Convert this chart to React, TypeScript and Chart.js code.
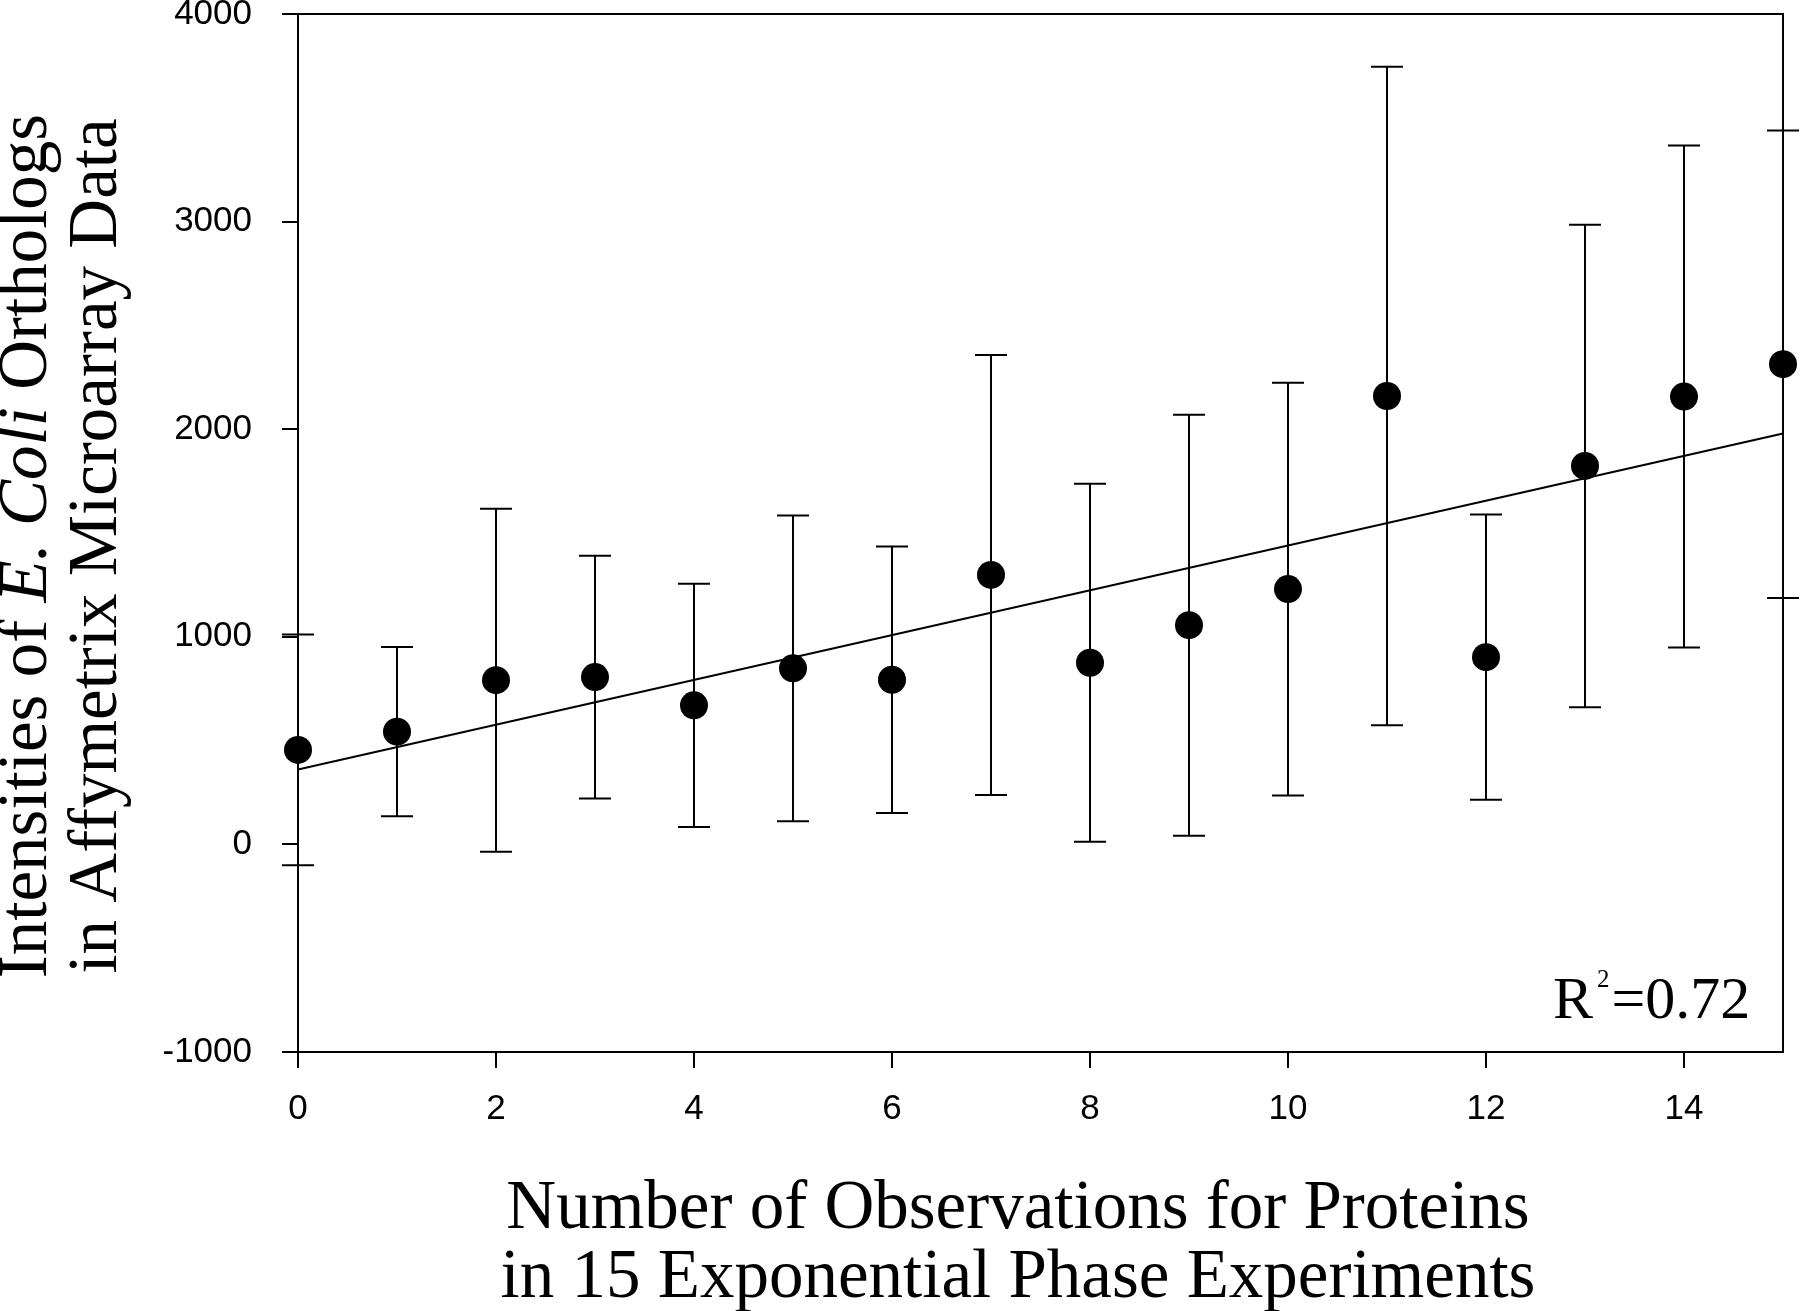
import React, { useEffect, useRef } from "react";
import { Chart, registerables } from "chart.js";

Chart.register(...registerables);

// ---- data ----
const observations = [0, 1, 2, 3, 4, 5, 6, 7, 8, 9, 10, 11, 12, 13, 14, 15];
const meanIntensity = [455, 543, 791, 806, 670, 848, 793, 1298, 875, 1056, 1230, 2160, 902, 1823, 2157, 2313];
const errorIntensity = [556, 408, 826, 585, 586, 736, 642, 1060, 862, 1014, 994, 1586, 687, 1162, 1209, 1126];
const fitX = [0, 15];
const fitY = [361, 1979];
const xRange = [0, 15];
const xStep = 2;
const yRange = [-1000, 4000];
const yStep = 1000;
const rSquaredLabel = "0.72";
const xTitleLines = ["Number of Observations for Proteins", "in 15 Exponential Phase Experiments"];
const yTitleLine1 = [
  { text: "Intensities of ", italic: false },
  { text: "E. Coli", italic: true },
  { text: " Orthologs", italic: false },
];
const yTitleLine2 = "in Affymetrix Microarray Data";

const SERIF = "'Liberation Serif', 'Times New Roman', serif";
const SANS = "'Liberation Sans', Arial, sans-serif";
const X_TITLE_SIZE = 69;
const Y_TITLE_SIZE = 69;
const TICK_SIZE = 35;

const errorBarPlugin = {
  id: "errorBarsAndFrame",
  beforeDatasetsDraw(chart: any) {
    const { ctx, scales, chartArea } = chart;
    const x = scales.x;
    const y = scales.y;
    ctx.save();
    ctx.strokeStyle = "#000";
    ctx.lineWidth = 2;
    ctx.beginPath();
    ctx.moveTo(chartArea.left, chartArea.top);
    ctx.lineTo(chartArea.right, chartArea.top);
    ctx.lineTo(chartArea.right, chartArea.bottom);
    ctx.stroke();
    ctx.beginPath();
    observations.forEach((o, i) => {
      const px = x.getPixelForValue(o);
      const top = y.getPixelForValue(meanIntensity[i] + errorIntensity[i]);
      const bot = y.getPixelForValue(meanIntensity[i] - errorIntensity[i]);
      ctx.moveTo(px, top);
      ctx.lineTo(px, bot);
      ctx.moveTo(px - 16, top);
      ctx.lineTo(px + 16, top);
      ctx.moveTo(px - 16, bot);
      ctx.lineTo(px + 16, bot);
    });
    ctx.stroke();
    ctx.restore();
  },
};

const titlesPlugin = {
  id: "titles",
  afterDraw(chart: any) {
    const { ctx } = chart;
    ctx.save();
    ctx.fillStyle = "#000";
    ctx.textBaseline = "alphabetic";

    // X title
    ctx.textAlign = "center";
    ctx.font = `${X_TITLE_SIZE}px ${SERIF}`;
    ctx.fillText(xTitleLines[0], 1018, 1228);
    ctx.fillText(xTitleLines[1], 1018, 1297);

    // Y title (rotated)
    ctx.save();
    ctx.translate(46, 546);
    ctx.rotate(-Math.PI / 2);
    ctx.textAlign = "left";
    const widths = yTitleLine1.map((s) => {
      ctx.font = `${s.italic ? "italic " : ""}${Y_TITLE_SIZE}px ${SERIF}`;
      return ctx.measureText(s.text).width;
    });
    const total = widths.reduce((a, b) => a + b, 0);
    let cx = -total / 2;
    yTitleLine1.forEach((s, i) => {
      ctx.font = `${s.italic ? "italic " : ""}${Y_TITLE_SIZE}px ${SERIF}`;
      ctx.fillText(s.text, cx, 0);
      cx += widths[i];
    });
    ctx.restore();

    ctx.save();
    ctx.translate(116, 546);
    ctx.rotate(-Math.PI / 2);
    ctx.textAlign = "center";
    ctx.font = `${Y_TITLE_SIZE}px ${SERIF}`;
    ctx.fillText(yTitleLine2, 0, 0);
    ctx.restore();

    // R^2 annotation
    ctx.textAlign = "left";
    let rx = 1553;
    const ry = 1018;
    ctx.font = `60px ${SERIF}`;
    ctx.fillText("R", rx, ry);
    rx += ctx.measureText("R").width + 4;
    ctx.font = `25px ${SERIF}`;
    ctx.fillText("2", rx, ry - 31);
    rx += ctx.measureText("2").width + 2;
    ctx.font = `60px ${SERIF}`;
    ctx.fillText("=" + rSquaredLabel, rx, ry);

    ctx.restore();
  },
};

export default function App() {
  const canvasRef = useRef<HTMLCanvasElement | null>(null);

  useEffect(() => {
    if (!canvasRef.current) return;
    const chart = new Chart(canvasRef.current, {
      type: "scatter",
      data: {
        datasets: [
          {
            type: "line" as any,
            label: "fit",
            data: fitX.map((v, i) => ({ x: v, y: fitY[i] })),
            borderColor: "#000",
            borderWidth: 2,
            pointRadius: 0,
            showLine: true,
            fill: false,
            clip: false as any,
            order: 2,
          },
          {
            label: "mean",
            data: observations.map((v, i) => ({ x: v, y: meanIntensity[i] })),
            backgroundColor: "#000",
            borderColor: "#000",
            borderWidth: 0,
            pointRadius: 14,
            pointHoverRadius: 14,
            clip: false as any,
            order: 1,
          },
        ],
      },
      options: {
        animation: false,
        responsive: true,
        maintainAspectRatio: false,
        events: [],
        layout: { padding: { top: 13, right: 17, left: 0, bottom: 0 } },
        plugins: {
          legend: { display: false },
          tooltip: { enabled: false },
          title: { display: false },
        },
        scales: {
          x: {
            type: "linear",
            min: xRange[0],
            max: xRange[1],
            ticks: {
              stepSize: xStep,
              includeBounds: false,
              autoSkip: false,
              maxRotation: 0,
              padding: 20,
              color: "#000",
              font: { family: SANS, size: TICK_SIZE },
              callback: (v: any) => String(v),
            },
            grid: {
              drawOnChartArea: false,
              drawTicks: true,
              tickLength: 16,
              tickWidth: 2,
              tickColor: "#000",
              color: "#000",
              lineWidth: 2,
            },
            border: { display: true, color: "#000", width: 2 },
            afterFit: (scale: any) => {
              scale.height = 259;
              scale.paddingLeft = 0;
              scale.paddingRight = 0;
            },
          },
          y: {
            type: "linear",
            min: yRange[0],
            max: yRange[1],
            ticks: {
              stepSize: yStep,
              padding: 30,
              color: "#000",
              font: { family: SANS, size: TICK_SIZE },
              callback: (v: any) => String(v),
            },
            grid: {
              drawOnChartArea: false,
              drawTicks: true,
              tickLength: 16,
              tickWidth: 2,
              tickColor: "#000",
              color: "#000",
              lineWidth: 2,
            },
            border: { display: true, color: "#000", width: 2 },
            afterFit: (scale: any) => {
              scale.width = 298;
              scale.paddingTop = 0;
              scale.paddingBottom = 0;
            },
          },
        },
      },
      plugins: [errorBarPlugin, titlesPlugin],
    });
    return () => chart.destroy();
  }, []);

  return (
    <div
      style={{
        position: "absolute",
        left: 0,
        top: 0,
        width: 1800,
        height: 1311,
        background: "#fff",
      }}
    >
      <canvas ref={canvasRef} />
    </div>
  );
}
